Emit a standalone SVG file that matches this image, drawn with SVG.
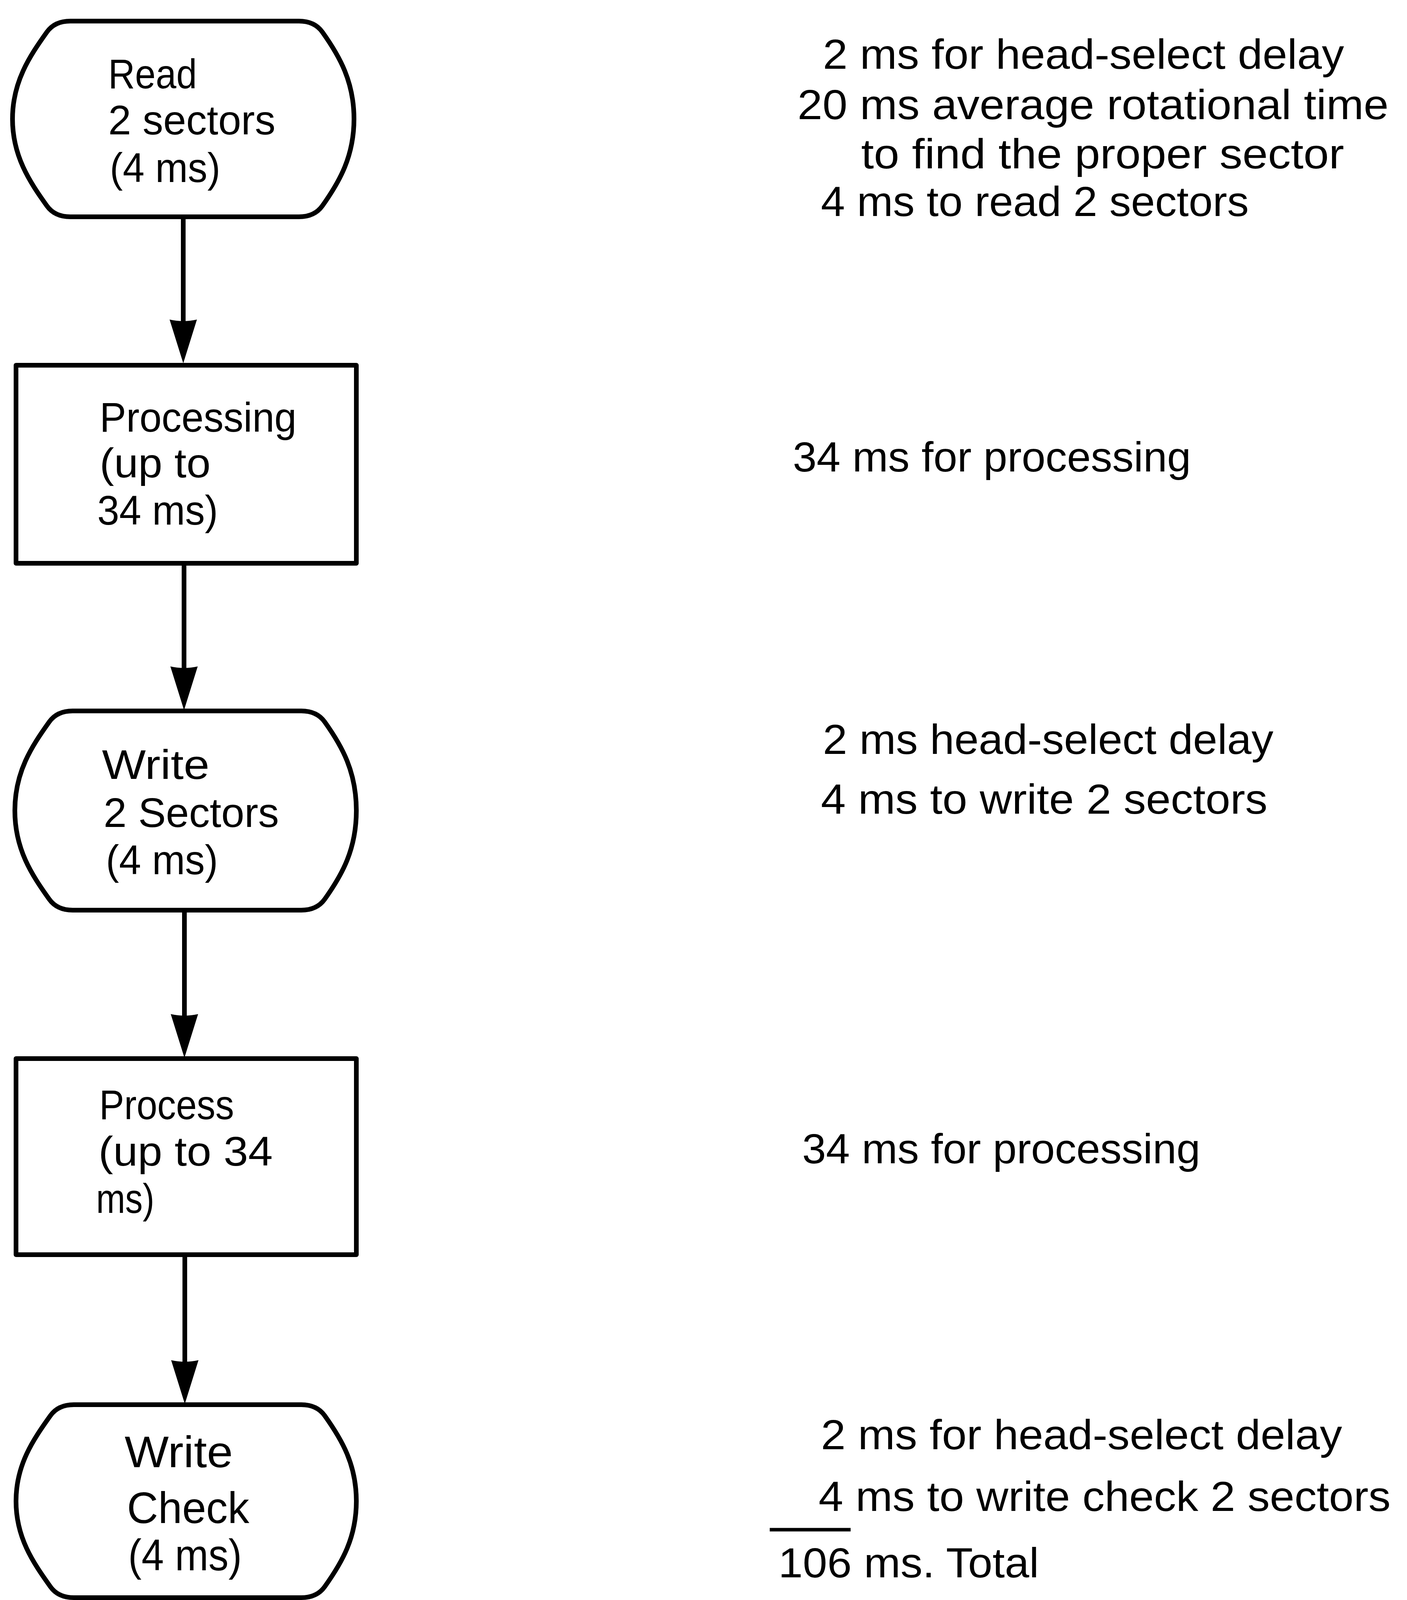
<svg xmlns="http://www.w3.org/2000/svg" width="3601" height="4098" viewBox="0 0 3601 4098">
<defs>
<style>
.shape{fill:#fff;stroke:#000;stroke-width:12;stroke-linejoin:round}
.edge{fill:none;stroke:#000;stroke-width:12}
.t{font-family:"Liberation Sans",Arial,sans-serif;font-size:106px;fill:#000}
.tb{font-family:"Liberation Sans",Arial,sans-serif;font-size:114px;fill:#000}
.r{font-family:"Liberation Sans",Arial,sans-serif;font-size:107px;fill:#000}
</style>
<marker id="ah" viewBox="0 0 112 70" refX="92" refY="35" markerWidth="112" markerHeight="70" markerUnits="userSpaceOnUse" orient="auto">
<path d="M0,0 L112,35 L0,70 Q8,35 0,0 Z" fill="#000"/>
</marker>
</defs>
<rect width="3601" height="4098" fill="#fff"/>

<g id="connectors">
<path class="edge" d="M469,555 V910" marker-end="url(#ah)"/>
<path class="edge" d="M471,1442 V1798" marker-end="url(#ah)"/>
<path class="edge" d="M472,2330 V2688" marker-end="url(#ah)"/>
<path class="edge" d="M473,3212 V3574" marker-end="url(#ah)"/>
</g>

<g id="node-read">
<path class="shape" d="M180,54 H765 Q805,54 825,82 C870,145 906,210 906,304.5 C906,399 870,464 825,527 Q805,555 765,555 H180 Q140,555 120,527 C75,464 32,399 32,304.5 C32,210 75,145 120,82 Q140,54 180,54 Z"/>
<text class="t" x="277" y="226" textLength="227" lengthAdjust="spacingAndGlyphs">Read</text>
<text class="t" x="277" y="344" textLength="428" lengthAdjust="spacingAndGlyphs">2 sectors</text>
<text class="t" x="281" y="466" textLength="283" lengthAdjust="spacingAndGlyphs">(4 ms)</text>
</g>

<g id="node-processing">
<rect class="shape" x="41" y="935" width="871" height="507"/>
<text class="t" x="255" y="1105" textLength="504" lengthAdjust="spacingAndGlyphs">Processing</text>
<text class="t" x="255" y="1222" textLength="284" lengthAdjust="spacingAndGlyphs">(up to</text>
<text class="t" x="249" y="1343" textLength="309" lengthAdjust="spacingAndGlyphs">34 ms)</text>
</g>

<g id="node-write">
<path class="shape" d="M186,1820 H771 Q811,1820 831,1848 C876,1911 912,1976 912,2075 C912,2174 876,2239 831,2302 Q811,2330 771,2330 H186 Q146,2330 126,2302 C81,2239 38,2174 38,2075 C38,1976 81,1911 126,1848 Q146,1820 186,1820 Z"/>
<text class="t" x="261" y="1994" textLength="275" lengthAdjust="spacingAndGlyphs">Write</text>
<text class="t" x="265" y="2117" textLength="449" lengthAdjust="spacingAndGlyphs">2 Sectors</text>
<text class="t" x="271" y="2238" textLength="287" lengthAdjust="spacingAndGlyphs">(4 ms)</text>
</g>

<g id="node-process">
<rect class="shape" x="41" y="2710" width="871" height="502"/>
<text class="t" x="254" y="2865" textLength="345" lengthAdjust="spacingAndGlyphs">Process</text>
<text class="t" x="252" y="2984" textLength="446" lengthAdjust="spacingAndGlyphs">(up to 34</text>
<text class="t" x="246" y="3105" textLength="149" lengthAdjust="spacingAndGlyphs">ms)</text>
</g>

<g id="node-write-check">
<path class="shape" d="M189,3596 H771 Q811,3596 831,3624 C876,3687 912,3750 912,3843 C912,3936 876,3999 831,4062 Q811,4090 771,4090 H189 Q149,4090 129,4062 C84,3999 41,3936 41,3843 C41,3750 84,3687 129,3624 Q149,3596 189,3596 Z"/>
<text class="tb" x="319" y="3756" textLength="277" lengthAdjust="spacingAndGlyphs">Write</text>
<text class="tb" x="325" y="3899" textLength="313" lengthAdjust="spacingAndGlyphs">Check</text>
<text class="tb" x="328" y="4020" textLength="291" lengthAdjust="spacingAndGlyphs">(4 ms)</text>
</g>

<g id="notes-read">
<text class="r" x="2106" y="176" textLength="1334" lengthAdjust="spacingAndGlyphs">2 ms for head-select delay</text>
<text class="r" x="2041" y="305" textLength="1513" lengthAdjust="spacingAndGlyphs">20 ms average rotational time</text>
<text class="r" x="2204" y="431" textLength="1236" lengthAdjust="spacingAndGlyphs">to find the proper sector</text>
<text class="r" x="2101" y="553" textLength="1095" lengthAdjust="spacingAndGlyphs">4 ms to read 2 sectors</text>
</g>

<g id="notes-processing">
<text class="r" x="2029" y="1207" textLength="1019" lengthAdjust="spacingAndGlyphs">34 ms for processing</text>
</g>

<g id="notes-write">
<text class="r" x="2106" y="1930" textLength="1153" lengthAdjust="spacingAndGlyphs">2 ms head-select delay</text>
<text class="r" x="2101" y="2083" textLength="1143" lengthAdjust="spacingAndGlyphs">4 ms to write 2 sectors</text>
</g>

<g id="notes-process">
<text class="r" x="2053" y="2978" textLength="1019" lengthAdjust="spacingAndGlyphs">34 ms for processing</text>
</g>

<g id="notes-write-check">
<text class="r" x="2101" y="3710" textLength="1334" lengthAdjust="spacingAndGlyphs">2 ms for head-select delay</text>
<text class="r" x="2095" y="3868" textLength="1464" lengthAdjust="spacingAndGlyphs">4 ms to write check 2 sectors</text>
<line x1="1970" y1="3916" x2="2177" y2="3916" stroke="#000" stroke-width="9"/>
<text class="r" x="1992" y="4038" textLength="667" lengthAdjust="spacingAndGlyphs">106 ms. Total</text>
</g>
</svg>
